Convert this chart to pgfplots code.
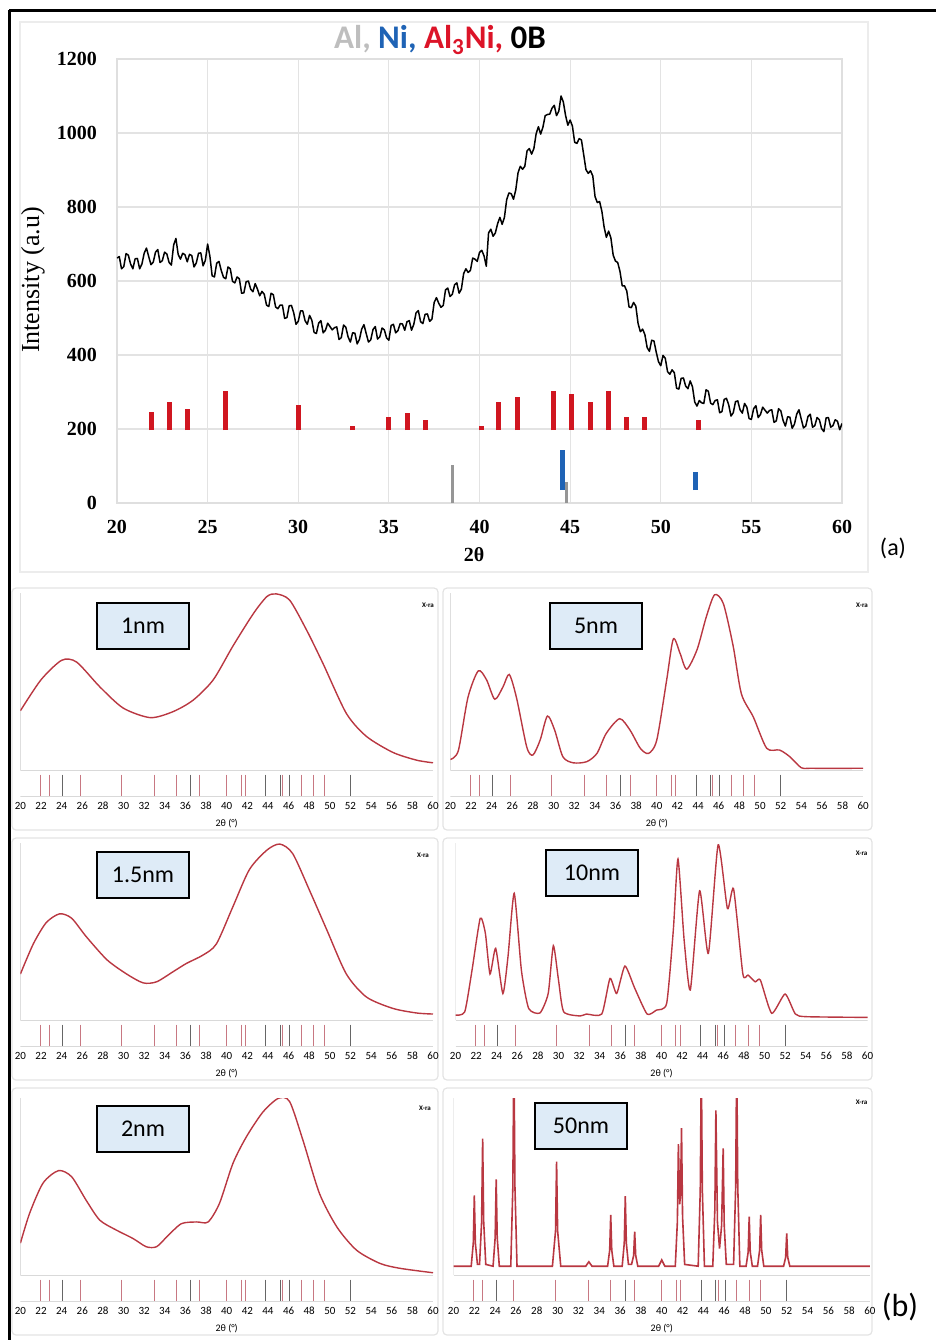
\documentclass[border=0pt]{standalone}
\usepackage{pgfplots}
\pgfplotsset{compat=1.18}
\usepackage{fontspec}
\setmainfont{Liberation Serif}
\newfontfamily\calib{Carlito}

\definecolor{alg}{RGB}{190,190,190}
\definecolor{nib}{RGB}{31,99,181}
\definecolor{alr}{RGB}{220,20,40}
\definecolor{stkred}{RGB}{208,22,32}
\definecolor{stkgray}{RGB}{150,150,150}
\definecolor{xc}{RGB}{185,55,65}
\definecolor{stk}{RGB}{200,120,130}
\definecolor{lblfill}{RGB}{222,235,247}

\pgfplotsset{
  bsub/.style={anchor=south west, scale only axis, height=101.8pt,
    xmin=20, xmax=60, ymin=-15, ymax=100,
    xtick={20,22,...,60}, ytick=\empty,
    axis line style={draw=none}, major tick length=0pt,
    /pgf/number format/assume math mode=true,
    xticklabel style={font=\calib\fontsize{5.5}{6}\selectfont, inner sep=1pt, yshift=-1.5pt},
    xlabel={2θ (°)},
    xlabel style={font=\calib\fontsize{5}{6}\selectfont, at={(axis description cs:0.5,0)}, anchor=north, yshift=-8pt}},
  xrd/.style={xc, line width=0.7pt, smooth, tension=0.45},
  sticks/.style={only marks, mark=|, mark size=5.3pt, mark options={line width=0.45pt, color=stk}},
  dsticks/.style={only marks, mark=|, mark size=5.3pt, mark options={line width=0.45pt, color=black!60}},
}
\newcommand{\decor}{%
  \draw[gray!30, line width=0.4pt] (axis cs:20,0) -- (axis cs:60,0);
  \draw[gray!30, line width=0.4pt] (axis cs:20,-15) -- (axis cs:60,-15);
  \draw[gray!40, line width=0.4pt] (axis cs:20,0) -- (axis cs:20,100);
  \addplot[sticks] coordinates {(21.9,-8.5)(22.8,-8.5)(25.8,-8.5)(29.8,-8.5)(33.0,-8.5)(35.1,-8.5)(37.4,-8.5)(40.0,-8.5)(41.4,-8.5)(41.8,-8.5)(45.4,-8.5)(47.2,-8.5)(48.4,-8.5)(49.5,-8.5)};
  \addplot[dsticks] coordinates {(24.1,-8.5)(36.5,-8.5)(43.8,-8.5)(45.2,-8.5)(46.1,-8.5)(52.0,-8.5)};
}
\tikzset{lbl/.style={draw=black, line width=1pt, fill=lblfill, minimum width=46pt, minimum height=23pt, inner sep=0pt, font=\calib\fontsize{12}{14}\selectfont}}

\begin{document}
\begin{tikzpicture}
\useasboundingbox (0pt,0pt) rectangle (468pt,-670pt);

% frames
\draw[gray!15, line width=0.6pt] (10pt,-11pt) rectangle (434pt,-286pt);
\foreach \x/\w in {6/213, 221.5/214.5}{
  \foreach \y/\h in {294/121, 419/121, 544/123.5}{
    \draw[gray!22, line width=0.6pt, rounded corners=2pt] (\x pt,-\y pt) rectangle ++(\w pt,-\h pt);
  }
}
\draw[black, line width=1.5pt] (4.5pt,-5pt) -- (468pt,-5pt);
\draw[black, line width=1.5pt] (4.5pt,-5pt) -- (4.5pt,-670pt);

% ---------------- panel (a)
\begin{axis}[at={(58.5pt,-251.5pt)}, anchor=south west, scale only axis,
  width=362.5pt, height=222pt,
  xmin=20, xmax=60, ymin=0, ymax=1200,
  xtick={20,25,...,60}, ytick={0,200,...,1200},
  grid=major, grid style={gray!22, line width=0.6pt},
  axis line style={gray!25, line width=0.6pt}, major tick length=0pt,
  /pgf/number format/assume math mode=true, /pgf/number format/1000 sep={},
  tick label style={font=\bfseries\fontsize{10}{12}\selectfont},
  xticklabel style={yshift=-5pt}, yticklabel style={xshift=-6.5pt},
  unbounded coords=jump]
\addplot[black, line width=0.75pt, line join=round] coordinates {
(20.00,662)(20.125,666)(20.25,633)(20.375,639)(20.50,674)(20.625,670)(20.75,646)(20.875,633)
(21.00,660)(21.125,661)(21.25,633)(21.375,646)(21.50,675)(21.625,689)(21.75,666)(21.875,644)
(22.00,651)(22.125,678)(22.25,685)(22.375,650)(22.50,655)(22.625,678)(22.75,673)(22.875,650)
(23.00,643)(23.125,697)(23.25,715)(23.375,672)(23.50,659)(23.625,675)(23.75,671)(23.875,652)
(24.00,672)(24.125,669)(24.25,638)(24.375,649)(24.50,675)(24.625,676)(24.75,641)(24.875,656)
(25.00,700)(25.125,667)(25.25,614)(25.375,611)(25.50,648)(25.625,653)(25.75,629)(25.875,610)
(26.00,606)(26.125,638)(26.25,633)(26.375,599)(26.50,595)(26.625,611)(26.75,606)(26.875,567)
(27.00,568)(27.125,598)(27.25,600)(27.375,578)(27.50,571)(27.625,593)(27.75,578)(27.875,560)
(28.00,572)(28.125,564)(28.25,535)(28.375,531)(28.50,567)(28.625,563)(28.75,530)(28.875,525)
(29.00,535)(29.125,535)(29.25,499)(29.375,501)(29.50,533)(29.625,534)(29.75,514)(29.875,483)
(30.00,491)(30.125,519)(30.25,519)(30.375,493)(30.50,483)(30.625,507)(30.75,494)(30.875,461)
(31.00,458)(31.125,486)(31.25,493)(31.375,460)(31.50,467)(31.625,486)(31.75,477)(31.875,468)
(32.00,474)(32.125,476)(32.25,442)(32.375,447)(32.50,481)(32.625,475)(32.75,449)(32.875,435)
(33.00,460)(33.125,459)(33.25,430)(33.375,442)(33.50,470)(33.625,482)(33.75,458)(33.875,435)
(34.00,441)(34.125,469)(34.25,477)(34.375,443)(34.50,449)(34.625,473)(34.75,468)(34.875,446)
(35.00,440)(35.125,480)(35.25,483)(35.375,460)(35.50,466)(35.625,485)(35.75,484)(35.875,467)
(36.00,490)(36.125,493)(36.25,467)(36.375,483)(36.50,514)(36.625,520)(36.75,490)(36.875,485)
(37.00,510)(37.125,511)(37.25,491)(37.375,497)(37.50,542)(37.625,555)(37.75,540)(37.875,529)
(38.00,534)(38.125,576)(38.25,581)(38.375,558)(38.50,564)(38.625,590)(38.75,595)(38.875,567)
(39.00,578)(39.125,620)(39.25,633)(39.375,623)(39.50,629)(39.625,662)(39.75,659)(39.875,653)
(40.00,677)(40.125,683)(40.25,668)(40.375,640)(40.50,730)(40.625,740)(40.75,721)(40.875,730)
(41.00,755)(41.125,772)(41.25,753)(41.375,772)(41.50,820)(41.625,838)(41.75,836)(41.875,821)
(42.00,846)(42.125,892)(42.25,910)(42.375,902)(42.50,910)(42.625,952)(42.75,958)(42.875,943)
(43.00,958)(43.125,998)(43.25,1017)(43.375,997)(43.50,1016)(43.625,1047)(43.75,1050)(43.875,1051)
(44.00,1067)(44.125,1075)(44.25,1047)(44.375,1059)(44.50,1100)(44.625,1084)(44.75,1047)(44.875,1021)
(45.00,1035)(45.125,1019)(45.25,975)(45.375,972)(45.50,985)(45.625,981)(45.75,941)(45.875,901)
(46.00,891)(46.125,898)(46.25,884)(46.375,828)(46.50,812)(46.625,815)(46.75,789)(46.875,746)
(47.00,718)(47.125,735)(47.25,716)(47.375,670)(47.50,654)(47.625,650)(47.75,626)(47.875,587)
(48.00,587)(48.125,573)(48.25,530)(48.375,528)(48.50,542)(48.625,532)(48.75,485)(48.875,463)
(49.00,470)(49.125,455)(49.25,420)(49.375,410)(49.50,440)(49.625,438)(49.75,408)(49.875,382)
(50.00,371)(50.125,399)(50.25,391)(50.375,355)(50.50,348)(50.625,360)(50.75,352)(50.875,310)
(51.00,308)(51.125,337)(51.25,338)(51.375,316)(51.50,309)(51.625,330)(51.75,314)(51.875,273)
(52.00,262)(52.125,277)(52.25,271)(52.375,269)(52.50,306)(52.625,302)(52.75,270)(52.875,266)
(53.00,277)(53.125,279)(53.25,244)(53.375,247)(53.50,280)(53.625,283)(53.75,265)(53.875,235)
(54.00,244)(54.125,274)(54.25,276)(54.375,252)(54.50,243)(54.625,269)(54.75,259)(54.875,228)
(55.00,226)(55.125,255)(55.25,263)(55.375,231)(55.50,239)(55.625,259)(55.75,251)(55.875,243)
(56.00,250)(56.125,252)(56.25,218)(56.375,222)(56.50,255)(56.625,249)(56.75,223)(56.875,208)
(57.00,233)(57.125,232)(57.25,202)(57.375,213)(57.50,240)(57.625,252)(57.75,227)(57.875,203)
(58.00,208)(58.125,234)(58.25,240)(58.375,205)(58.50,209)(58.625,231)(58.75,225)(58.875,201)
(59.00,193)(59.125,230)(59.25,231)(59.375,205)(59.50,209)(59.625,225)(59.75,221)(59.875,198)
(60.00,215)};
% Al3Ni reference sticks
\addplot[stkred, line width=2.5pt] coordinates {
(21.9,197)(21.9,247)(21.9,nan) (22.9,197)(22.9,274)(22.9,nan) (23.9,197)(23.9,254)(23.9,nan)
(26.0,197)(26.0,304)(26.0,nan) (30.0,197)(30.0,265)(30.0,nan) (33.0,197)(33.0,208)(33.0,nan)
(35.0,197)(35.0,233)(35.0,nan) (36.0,197)(36.0,244)(36.0,nan) (37.0,197)(37.0,224)(37.0,nan)
(40.1,197)(40.1,209)(40.1,nan) (41.05,197)(41.05,274)(41.05,nan) (42.1,197)(42.1,286)(42.1,nan)
(44.1,197)(44.1,304)(44.1,nan) (45.1,197)(45.1,295)(45.1,nan) (46.1,197)(46.1,274)(46.1,nan)
(47.1,197)(47.1,304)(47.1,nan) (48.1,197)(48.1,233)(48.1,nan) (49.1,197)(49.1,233)(49.1,nan)
(52.1,197)(52.1,224)};
% Ni sticks
\addplot[nib, line width=2.5pt] coordinates {(44.6,35)(44.6,143)(44.6,nan)(51.9,35)(51.9,84)};
% Al sticks
\addplot[stkgray, line width=1.5pt] coordinates {(38.5,0)(38.5,103)(38.5,nan)(44.8,0)(44.8,57)};
\end{axis}

\node[font=\calib\bfseries\fontsize{16.5}{18}\selectfont] at (220pt,-20pt)
  {\textcolor{alg}{Al,} \textcolor{nib}{Ni,} \textcolor{alr}{Al\textsubscript{3}Ni,} 0B};
\node[rotate=90, font=\fontsize{13}{15}\selectfont] at (16.5pt,-140pt) {Intensity (a.u)};
\node[font=\bfseries\fontsize{10}{12}\selectfont] at (237pt,-277.5pt) {2θ};
\node[font=\calib\fontsize{12}{14}\selectfont] at (446.5pt,-274pt) {(a)};

% ---------------- panel (b)
\begin{axis}[bsub, at={(10.2pt,-398.3pt)}, width=206.3pt]
\decor
\addplot[xrd] coordinates {(20,33.5)(22.0,51)(24.0,62)(25.45,61)(27.7,47)(29.97,35)(32.6,29.6)(34.8,33)(36.75,39.5)(38.7,51)(40.6,70)(42.6,88.5)(43.9,98)(44.8,99.5)(46.1,96)(47.75,79)(49.35,60)(51.6,32)(53.55,19)(56.1,10)(58.4,5.6)(60,4.1)};
\end{axis}

\begin{axis}[bsub, at={(225.2pt,-398.3pt)}, width=206.4pt]
\decor
\addplot[xrd] coordinates {(20,6)(20.77,11)(21.7,41)(22.7,56)(23.5,51)(24.3,40)(25.1,47)(25.7,54)(26.4,41)(27.4,13)(28.0,8.5)(28.7,17)(29.4,30.5)(30.1,22.6)(30.9,7.5)(31.9,4.1)(33.2,4.7)(34.2,9.4)(35.1,20.7)(36.4,29)(37.4,22.6)(38.4,12.3)(39.2,9.4)(40.0,17)(40.96,51)(41.6,74)(42.25,66)(42.9,57)(43.9,68)(44.8,86.6)(45.6,99)(46.45,94)(47.4,70)(48.2,43)(49.35,30)(50.65,12.3)(51.9,11.3)(52.9,7.5)(54.0,1.3)(55,1)(60,1)};
\end{axis}

\begin{axis}[bsub, at={(10.2pt,-523.3pt)}, width=206.3pt]
\decor
\addplot[xrd] coordinates {(20,26)(21.25,43)(22.5,55)(23.8,60)(24.97,57.5)(26.4,47)(28.4,34)(30.3,26)(31.9,21)(33.2,21.6)(34.8,27.3)(36.1,32)(37.7,36.7)(39.0,43)(40.6,64)(42.2,85)(43.9,96)(45.15,99.4)(46.4,94)(48.05,73)(49.7,51)(51.6,26)(53.55,13)(56.1,6.6)(58.4,4)(60,3.4)};
\end{axis}

\begin{axis}[bsub, at={(227.75pt,-523.3pt)}, width=206pt]
\decor
\addplot[xrd, tension=0.35] coordinates {(20,2.8)(20.9,4.7)(21.6,28)(22.4,57.5)(22.9,49)(23.35,26)(23.9,40.5)(24.6,15)(25.1,36)(25.7,71.6)(26.4,28)(27.1,6.6)(28.2,4)(29.0,15)(29.5,42)(30.0,22.6)(30.5,4.7)(32.1,2.3)(32.7,3.4)(34.2,3.4)(35.0,23.5)(35.65,15)(36.45,30.5)(37.4,18)(38.6,3.4)(39.5,5.6)(40.5,9.4)(41.15,51)(41.6,91)(42.2,45)(42.8,17)(43.7,73)(44.55,37.7)(45.5,99)(46.4,63)(47.0,74)(47.9,26)(48.4,25.4)(49.1,21.6)(49.6,22.6)(50.7,3.8)(52.0,14.7)(53.0,3.4)(54.1,1.9)(60,1.5)};
\end{axis}

\begin{axis}[bsub, at={(10.2pt,-650.8pt)}, width=206.3pt]
\decor
\addplot[xrd] coordinates {(20,18)(20.9,35)(22.2,52)(23.7,59)(24.97,55.5)(26.4,42)(27.7,31)(29.3,25.4)(30.9,20.7)(32.2,16)(33.2,16)(34.2,21.6)(35.6,29)(37.1,30)(38.2,30)(39.3,40.5)(40.6,63)(41.9,78)(43.5,92)(45.0,99.8)(46.1,98)(47.4,76)(49.0,46)(50.7,27)(52.6,14)(54.85,6.6)(56.8,3.8)(60,1.3)};
\end{axis}

\begin{axis}[bsub, at={(226.75pt,-650.8pt)}, width=208.25pt]
\decor
\addplot[xc, line width=0.8pt] coordinates {(20,5)(21.7,5)(21.9,18)(22.0,45)(22.1,18)(22.3,6)(22.5,6)(22.7,30)(22.8,77)(22.9,30)(23.1,6)(23.8,5)(24.0,21)(24.1,54)(24.2,21)(24.4,5)(25.5,5)(25.7,50)(25.8,130)(25.9,50)(26.1,5)(29.5,5)(29.8,25)(29.9,64)(30.0,25)(30.3,5)(32.7,5)(33.0,7.5)(33.3,5)(34.8,5)(35.0,14)(35.1,34)(35.2,14)(35.4,5)(36.2,5)(36.4,18)(36.5,44.6)(36.6,18)(36.8,6)(37.1,6)(37.3,11)(37.4,24.5)(37.5,11)(37.7,5)(39.7,5)(40.0,8.5)(40.3,5)(41.3,5)(41.5,30)(41.6,74)(41.72,40)(41.8,45)(41.9,83)(42.0,33)(42.2,6)(43.5,5)(43.7,48)(43.8,120)(43.9,48)(44.1,5)(44.9,5)(45.1,37)(45.2,93)(45.35,30)(45.55,15)(45.75,28)(45.9,71.6)(46.0,28)(46.2,6)(46.9,6)(47.1,50)(47.2,125)(47.3,50)(47.5,5)(48.1,5)(48.3,13)(48.4,33)(48.5,13)(48.7,5)(49.2,5)(49.4,14)(49.5,34)(49.6,14)(49.8,5)(51.7,5)(51.9,10)(52.0,23.5)(52.1,10)(52.3,5)(60,5)};
\end{axis}

% panel labels
\node[lbl] at (71.5pt,-313pt) {1nm};
\node[lbl] at (298pt,-313pt) {5nm};
\node[lbl] at (71.5pt,-437.5pt) {1.5nm};
\node[lbl] at (296pt,-436.5pt) {10nm};
\node[lbl] at (71.5pt,-564.5pt) {2nm};
\node[lbl] at (290.5pt,-563pt) {50nm};
\foreach \x/\y in {214/302.5, 431/302.5, 211.5/427.5, 430.8/426.5, 212.5/554, 430.8/551.3}{
  \node[font=\calib\bfseries\fontsize{3.5}{4}\selectfont, inner sep=0pt] at (\x pt,-\y pt) {X-ra};
}
\node[font=\calib\fontsize{16}{18}\selectfont] at (450pt,-653.5pt) {(b)};
\end{tikzpicture}
\end{document}
